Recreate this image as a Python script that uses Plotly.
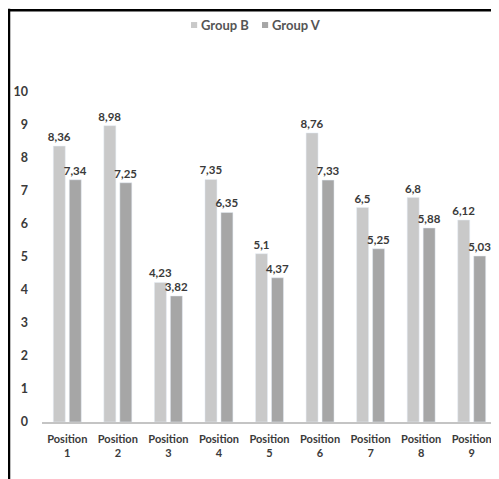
import plotly.graph_objects as go

categories = ["Position<br>1", "Position<br>2", "Position<br>3", "Position<br>4", "Position<br>5",
              "Position<br>6", "Position<br>7", "Position<br>8", "Position<br>9"]
series_names = ["Group B", "Group V"]
group_b = [8.36, 8.98, 4.23, 7.35, 5.1, 8.76, 6.5, 6.8, 6.12]
group_v = [7.34, 7.25, 3.82, 6.35, 4.37, 7.33, 5.25, 5.88, 5.03]
y_ticks = [0, 1, 2, 3, 4, 5, 6, 7, 8, 9, 10]

FONT = "Lato"
TXT = "#3a3a3a"
COLORS = ["#c9c9c9", "#a6a6a6"]

fig = go.Figure()
for name, vals, col in zip(series_names, [group_b, group_v], COLORS):
    fig.add_trace(go.Bar(
        name=name, x=categories, y=vals, marker_color=col,
        texttemplate="%{y:.3~g}", textposition="outside", cliponaxis=False,
        constraintext="none",
        textfont=dict(family=FONT, size=11.5, color=TXT, weight="bold"),
    ))

# legend drawn as small squares + labels (paper coords relative to plot area)
leg_sq_x = [0.3275, 0.4835]
leg_txt_x = [0.345, 0.501]
shapes = [
    dict(type="line", xref="paper", yref="paper", x0=-0.0745, x1=1.1, y0=1.248, y1=1.248,
         line=dict(color="black", width=2.5)),
    dict(type="line", xref="paper", yref="paper", x0=-0.0725, x1=-0.0725, y0=-0.3, y1=1.252,
         line=dict(color="black", width=2.5)),
]
annotations = []
for name, col, sx, tx in zip(series_names, COLORS, leg_sq_x, leg_txt_x):
    shapes.append(dict(type="rect", xref="paper", yref="paper", x0=sx, x1=sx + 0.0135,
                       y0=1.194, y1=1.212, fillcolor=col, line=dict(width=0)))
    annotations.append(dict(text=name, xref="paper", yref="paper", x=tx, y=1.203,
                            xanchor="left", yanchor="middle", showarrow=False,
                            font=dict(family=FONT, size=13, color="#555555", weight="bold")))

fig.update_layout(
    width=491, height=471,
    margin=dict(l=34, r=2, t=84, b=57),
    paper_bgcolor="white", plot_bgcolor="white",
    separators=", ",
    barmode="group", bargap=0.368, bargroupgap=0.25,
    font=dict(family=FONT, size=12, color=TXT, weight="bold"),
    showlegend=False,
    xaxis=dict(range=[-0.5, 8.5], showline=True, linecolor="#c4c4c4", linewidth=1.5,
               showgrid=False, zeroline=False, ticks="", ticklabelstandoff=6,
               tickfont=dict(family=FONT, size=11, color=TXT, weight="bold")),
    yaxis=dict(range=[0, 10], tickvals=y_ticks, showgrid=False, zeroline=False,
               showline=False, ticks="", ticklabelstandoff=13,
               tickfont=dict(family=FONT, size=12.5, color=TXT, weight="bold")),
    shapes=shapes,
    annotations=annotations,
)

fig.write_html("out.html")
